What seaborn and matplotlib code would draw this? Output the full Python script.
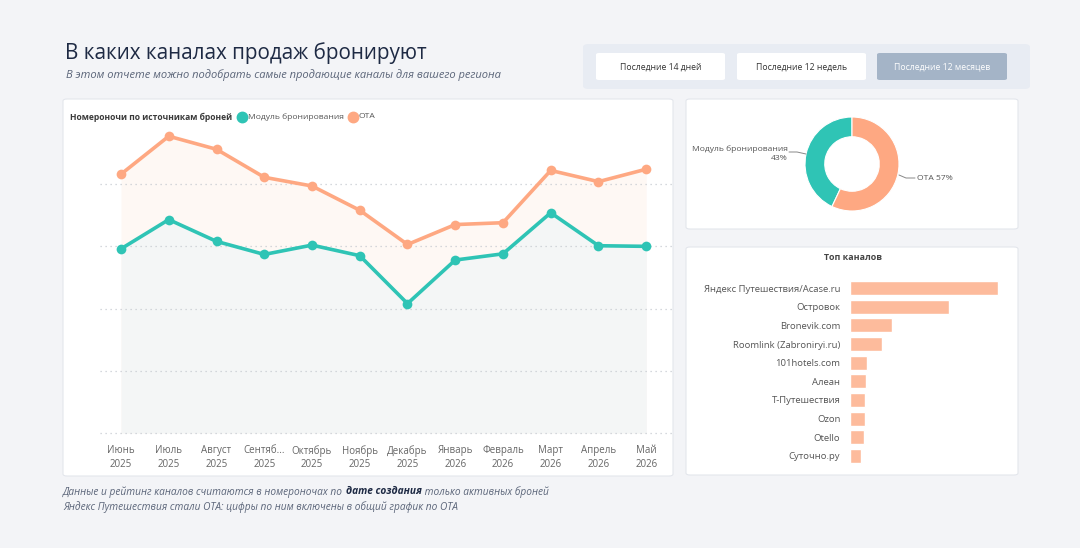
import matplotlib
matplotlib.use("Agg")
import matplotlib.pyplot as plt
from matplotlib.patches import FancyBboxPatch
from matplotlib.lines import Line2D
import seaborn as sns
import pandas as pd
import numpy as np

# ---------------- data ----------------
months = ["Июнь\n2025", "Июль\n2025", "Август\n2025", "Сентяб...\n2025", "Октябрь\n2025",
          "Ноябрь\n2025", "Декабрь\n2025", "Январь\n2026", "Февраль\n2026", "Март\n2026",
          "Апрель\n2026", "Май\n2026"]
module_vals = [296, 343, 308, 287, 302, 285, 208, 278, 288, 354, 301, 300]
ota_vals = [416, 477, 456, 411, 397, 358, 303, 335, 338, 422, 404, 424]
share_labels = ["Модуль бронирования", "OTA"]
share_vals = [43, 57]
channels = ["Яндекс Путешествия/Acase.ru", "Островок", "Bronevik.com", "Roomlink (Zabroniryi.ru)",
            "101hotels.com", "Алеан", "Т-Путешествия", "Ozon", "Otello", "Суточно.ру"]
channel_vals = [148, 99, 42, 32, 17, 16, 15.3, 15, 14, 11]

# ---------------- style ----------------
sns.set_theme(style="white")
plt.rcParams["font.family"] = ["Open Sans", "DejaVu Sans"]

TEAL = "#2fc4b5"
ORANGE = "#fea882"
BG = "#f3f4f7"
W, H = 1080, 548

fig = plt.figure(figsize=(10.8, 5.48), dpi=100, facecolor=BG)


def fx(x):
    return x / W


def fy(y):
    return 1 - y / H


def card(x0, y0, x1, y1, fc="white", ec="#e3e6ec", r=4, lw=0.8, z=-5):
    p = FancyBboxPatch((fx(x0), fy(y1)), fx(x1 - x0), (y1 - y0) / H,
                       boxstyle=f"round,pad=0,rounding_size={r / W}",
                       transform=fig.transFigure, fc=fc, ec=ec, lw=lw, zorder=z)
    fig.patches.append(p)


# title
fig.text(fx(65), fy(53), "В каких каналах продаж бронируют", fontsize=14.9, color="#1e2a44",
         va="center", ha="left")
fig.text(fx(66), fy(75), "В этом отчете можно подобрать самые продающие каналы для вашего региона",
         fontsize=8.0, color="#5b6579", style="italic", va="center", ha="left")

# button bar
card(583, 44, 1030, 89, fc="#e8ecf3", ec="none", r=6)
btns = [(596, 725, "Последние 14 дней", "white", "#333333"),
        (737, 866, "Последние 12 недель", "white", "#333333"),
        (877, 1007, "Последние 12 месяцев", "#a4b4c7", "white")]
for x0, x1, t, fc, tc in btns:
    card(x0, 53, x1, 80, fc=fc, ec="none", r=3, z=-4)
    fig.text(fx((x0 + x1) / 2), fy(67), t, fontsize=6.2, color=tc, ha="center", va="center")

# cards
card(63, 99, 673, 476)
card(686, 99, 1018, 229)
card(686, 247, 1018, 475)

# ---------------- line chart ----------------
ax = fig.add_axes([fx(100), fy(435), fx(672 - 100), (435 - 130) / H])
ax.set_facecolor("none")
df = pd.DataFrame({"x": list(range(12)) * 2,
                   "v": module_vals + ota_vals,
                   "s": ["Модуль бронирования"] * 12 + ["OTA"] * 12})
xs = np.arange(len(months))
ax.fill_between(xs, 0, ota_vals, color="#fef8f4", lw=0, zorder=0)
ax.fill_between(xs, 0, module_vals, color="#f4f6f6", lw=0, zorder=0.5)
sns.lineplot(data=df, x="x", y="v", hue="s", palette={"Модуль бронирования": TEAL, "OTA": ORANGE},
             marker="o", markersize=7, markeredgewidth=0, linewidth=2.6, ax=ax, legend=False,
             zorder=3)
ax.set_xlim(-0.44, 11.54)
ax.set_ylim(-3.2, 487)
ax.set_yticks([0, 100, 200, 300, 400])
ax.yaxis.grid(True, linestyle=(0, (1, 3)), color="#c8ccd2", lw=0.9)
ax.set_yticklabels([])
ax.tick_params(axis="y", length=0)
ax.set_xticks(xs)
ax.set_xticklabels(months, fontsize=7.0, color="#666666", linespacing=1.35)
ax.tick_params(axis="x", length=0, pad=7)
ax.set_xlabel("")
ax.set_ylabel("")
for s in ax.spines.values():
    s.set_visible(False)

# legend line
r = fig.canvas.get_renderer()
t = fig.text(fx(70), fy(117), "Номероночи по источникам броней", fontsize=6.1, weight="bold",
             color="#3a3a3a", va="center", ha="left")
x = t.get_window_extent(r).x1 + 10
for lab, col in [("Модуль бронирования", TEAL), ("OTA", ORANGE)]:
    fig.add_artist(Line2D([x / W], [fy(117)], marker="o", color=col, markersize=7.5,
                          transform=fig.transFigure))
    tt = fig.text((x + 5.5) / W, fy(117), lab, fontsize=6.1, color="#555555", va="center", ha="left")
    x = tt.get_window_extent(r).x1 + 9

# ---------------- donut ----------------
R = 47
axd = fig.add_axes([fx(852 - R), fy(164 + R), 2 * R / W, 2 * R / H])
axd.pie(share_vals, colors=[TEAL, ORANGE], startangle=90, counterclock=True,
        radius=1, wedgeprops=dict(width=0.42, edgecolor="white", linewidth=0.8))
axd.set_xlim(-1, 1)
axd.set_ylim(-1, 1)
axd.set_aspect("equal")
axd.axis("off")
fig.text(fx(788), fy(154), f"{share_labels[0]}\n{share_vals[0]}%", fontsize=6.1, color="#555555",
         ha="right", va="center", linespacing=1.35)
fig.add_artist(Line2D([fx(789), fx(797), fx(806)], [fy(152), fy(152), fy(154)], color="#888888",
                      lw=0.7, transform=fig.transFigure))
fig.text(fx(917), fy(178), f"{share_labels[1]} {share_vals[1]}%", fontsize=6.1, color="#555555",
         ha="left", va="center")
fig.add_artist(Line2D([fx(899), fx(906), fx(915)], [fy(175), fy(178), fy(178)], color="#888888",
                      lw=0.7, transform=fig.transFigure))

# ---------------- bars ----------------
fig.text(fx(853), fy(257), "Топ каналов", fontsize=6.4, weight="bold", color="#444444",
         ha="center", va="center")
axb = fig.add_axes([fx(850), fy(465.3), fx(1005 - 850), (465.3 - 278.7) / H])
axb.set_facecolor("none")
bdf = pd.DataFrame({"c": channels, "v": channel_vals})
sns.barplot(data=bdf, y="c", x="v", color="#fdbb9c", saturation=1, width=0.76, ax=axb)
axb.set_xlim(0, 155)
axb.set_xticks([])
axb.set_xlabel("")
axb.set_ylabel("")
axb.tick_params(axis="y", length=0, pad=7, labelsize=6.8, labelcolor="#555555")
for s in axb.spines.values():
    s.set_visible(False)

# ---------------- footer ----------------
fs = 7.3
fc = "#5b6579"
t1 = fig.text(fx(63), fy(492), "Данные и рейтинг каналов считаются в номероночах по ", fontsize=fs,
              color=fc, style="italic", va="center", ha="left")
x = t1.get_window_extent(r).x1
t2 = fig.text(x / W, fy(492), "дате создания", fontsize=fs, color="#1e2a44", style="italic",
              weight="bold", va="center", ha="left")
x = t2.get_window_extent(r).x1
fig.text(x / W, fy(492), " только активных броней", fontsize=fs, color=fc, style="italic",
         va="center", ha="left")
fig.text(fx(63), fy(507), "Яндекс Путешествия стали OTA: цифры по ним включены в общий график по OTA",
         fontsize=fs, color=fc, style="italic", va="center", ha="left")

fig.savefig("out.png", dpi=100, facecolor=BG)
